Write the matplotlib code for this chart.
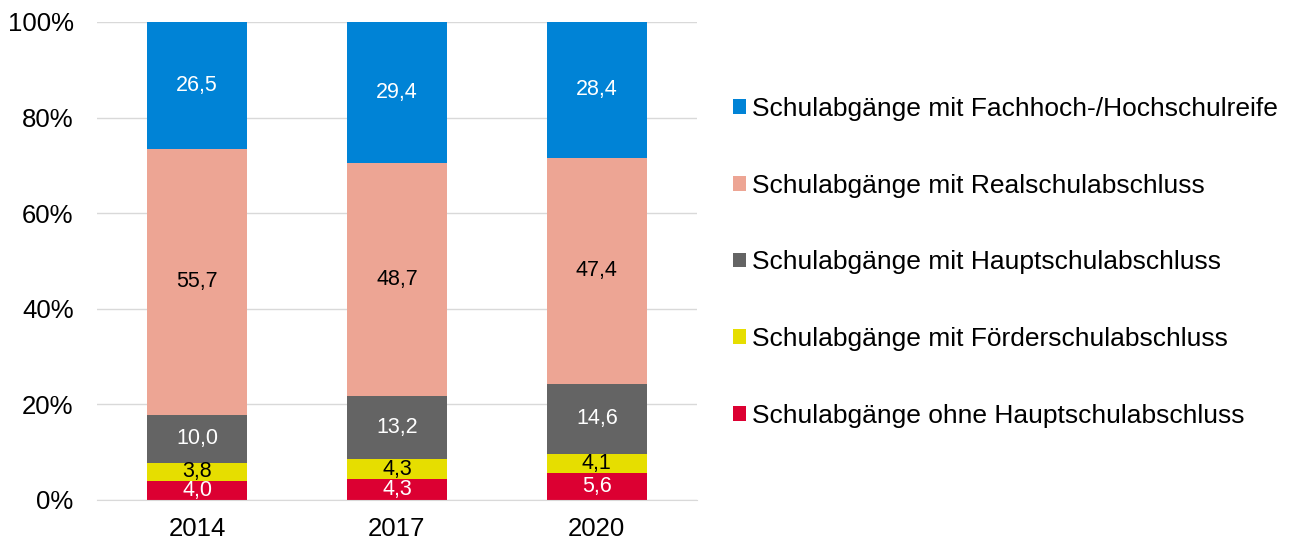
import numpy as np
import matplotlib.pyplot as plt

plt.rcParams['font.family'] = ['Liberation Sans', 'DejaVu Sans']

years = ["2014", "2017", "2020"]
series_names = [
    "Schulabgänge ohne Hauptschulabschluss",
    "Schulabgänge mit Förderschulabschluss",
    "Schulabgänge mit Hauptschulabschluss",
    "Schulabgänge mit Realschulabschluss",
    "Schulabgänge mit Fachhoch-/Hochschulreife",
]
ohne_hs = [4.0, 4.3, 5.6]
foerder = [3.8, 4.3, 4.1]
haupt = [10.0, 13.2, 14.6]
real = [55.7, 48.7, 47.4]
hochschul = [26.5, 29.4, 28.4]

colors = ["#DC0032", "#E6DE00", "#646464", "#EDA594", "#0083D6"]
label_colors = ["white", "black", "white", "black", "white"]

data = np.array([ohne_hs, foerder, haupt, real, hochschul])
# percent-stacked: normalise each year to 100
pct = data / data.sum(axis=0) * 100

fig = plt.figure(figsize=(12.95, 5.42), dpi=100)
ax = fig.add_axes([0.075, 0.0775, 0.463, 0.882])

x = np.arange(len(years))
bottom = np.zeros(len(years))
handles = []
for i in range(len(series_names)):
    b = ax.bar(x, pct[i], 0.5, bottom=bottom, color=colors[i], zorder=3,
               label=series_names[i])
    handles.append(b)
    for j in range(len(years)):
        ax.text(x[j], bottom[j] + pct[i][j] / 2, f"{data[i][j]:.1f}".replace(".", ","),
                ha="center", va="center", fontsize=15.5, color=label_colors[i], zorder=4)
    bottom += pct[i]

ax.set_xlim(-0.5, 2.5)
ax.set_ylim(0, 100)
ax.set_yticks([0, 20, 40, 60, 80, 100])
ax.set_yticklabels([f"{v}%" for v in [0, 20, 40, 60, 80, 100]])
ax.set_xticks(x)
ax.set_xticklabels(years)
ax.tick_params(axis="both", length=0, labelsize=18.5, colors="black")
ax.tick_params(axis="y", pad=17)
ax.tick_params(axis="x", pad=12)
ax.yaxis.grid(True, color="#D9D9D9", linewidth=1, zorder=0)
for s in ["top", "right", "left"]:
    ax.spines[s].set_visible(False)
ax.spines["bottom"].set_color("#D9D9D9")
ax.spines["bottom"].set_zorder(5)

fig.legend(handles[::-1], series_names[::-1], loc="center left",
           bbox_to_anchor=(0.566, 0.516), frameon=False, fontsize=19,
           handlelength=0.48, handleheight=0.48, handletextpad=0.26,
           labelspacing=2.0, borderpad=0, borderaxespad=0)

fig.savefig("out.png", dpi=100)
